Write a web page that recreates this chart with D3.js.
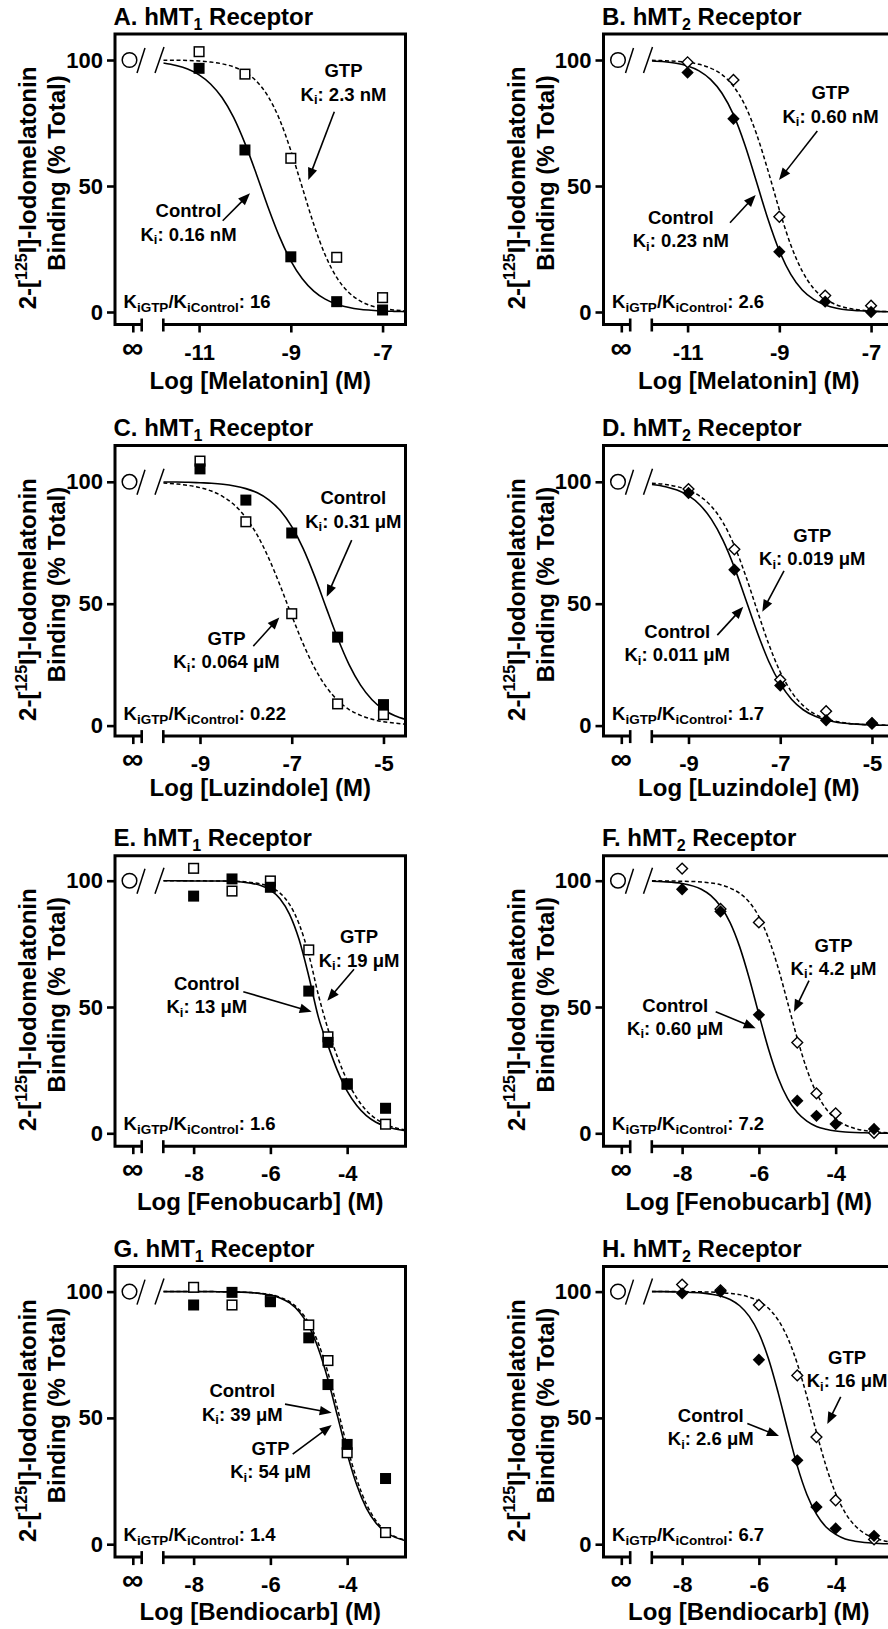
<!DOCTYPE html>
<html><head><meta charset="utf-8">
<script src="https://cdn.jsdelivr.net/npm/d3@7"></script>
<style>
html,body{margin:0;padding:0;background:#fff;}
svg text{font-family:"Liberation Sans",Arial,Helvetica,sans-serif;font-weight:bold;fill:#000;}
</style></head><body>
<svg id="chart" width="888" height="1629"></svg>
<script>
// ---------- DATA ----------
const panelLetters = ["A","B","C","D","E","F","G","H"];
const receptorSubs = ["1","2","1","2","1","2","1","2"];
const ligandNames = ["Melatonin","Melatonin","Luzindole","Luzindole","Fenobucarb","Fenobucarb","Bendiocarb","Bendiocarb"];
const kiControlLabels = ["0.16 nM","0.23 nM","0.31 μM","0.011 μM","13 μM","0.60 μM","39 μM","2.6 μM"];
const kiGtpLabels = ["2.3 nM","0.60 nM","0.064 μM","0.019 μM","19 μM","4.2 μM","54 μM","16 μM"];
const kiRatioLabels = ["16","2.6","0.22","1.7","1.6","7.2","1.4","6.7"];
const yTicks = [0, 50, 100];
const totalBinding = 100;
const xTicksMel = [-11, -9, -7];
const xTicksLuz = [-9, -7, -5];
const xTicksCarb = [-8, -6, -4];
const xDomainMel = [-11.78, -6.5];
const xDomainLuz = [-9.8, -4.52];
const xDomainCarb = [-8.79, -2.48];
const yDomainAB = [-4.96, 110.32];
const yDomainCD = [-4.31, 114.85];
const yDomainEH = [-5.11, 109.9];

// measured points (log M, % total)
const concMel = [-11, -10, -9, -8, -7];
const ctrlA = [96.7, 64.3, 21.9, 4.1, 0.8];
const gtpA  = [103.3, 94.4, 61.0, 21.7, 5.7];
const ctrlB = [95.0, 76.7, 23.9, 4.1, 0.0];
const gtpB  = [99.1, 92.1, 37.8, 6.5, 2.5];
const concLuz = [-9, -8, -7, -6, -5];
const ctrlC = [105.3, 92.5, 79.0, 36.3, 8.6];
const gtpC  = [108.5, 83.6, 45.9, 8.9, 4.5];
const ctrlD = [95.4, 63.9, 16.4, 2.2, 1.1];
const gtpD  = [97.0, 72.3, 18.8, 5.9, 0.8];
const concCarb = [-8, -7, -6, -5, -4.5, -4, -3];
const ctrlE = [93.9, 100.7, 97.4, 56.3, 36.0, 19.5, 9.9];
const gtpE  = [104.9, 95.9, 99.9, 72.6, 38.2, 19.5, 3.6];
const ctrlF = [96.6, 87.8, 46.9, 12.9, 6.9, 3.7, 1.7];
const gtpF  = [104.8, 88.8, 83.5, 35.9, 15.8, 7.9, 0.2];
const ctrlG = [94.7, 99.7, 96.0, 81.7, 63.2, 39.5, 26.0];
const gtpG  = [101.7, 94.7, 96.5, 86.8, 72.7, 36.2, 4.6];
const ctrlH = [99.3, 100.0, 73.0, 33.2, 14.7, 6.2, 3.3];
const gtpH  = [102.8, 100.5, 94.7, 66.8, 42.4, 17.4, 1.9];

// fitted curves
const fitXMel = [-11.78,-11.5,-11.25,-11,-10.75,-10.5,-10.25,-10,-9.75,-9.5,-9.25,-9,-8.75,-8.5,-8.25,-8,-7.75,-7.5,-7.25,-7,-6.75,-6.5];
const fitCtrlA = [98.8,97.8,96.4,94.1,90.5,85.1,77.3,66.9,54.7,41.8,30.0,20.3,13.2,8.3,5.1,3.1,1.9,1.1,0.7,0.4,0.25,0.15];
const fitGtpA  = [99.9,99.9,99.8,99.6,99.2,98.5,97.3,95.2,91.6,85.7,76.6,64.1,49.4,34.8,22.6,13.7,8.0,4.5,2.5,1.4,0.8,0.4];
const fitCtrlB = [99.6,99.3,98.7,97.6,95.7,92.3,86.8,78.3,66.3,51.8,37.0,24.3,14.9,8.7,5.0,2.8,1.5,0.8,0.5,0.3,0.15,0.1];
const fitGtpB  = [99.9,99.7,99.5,99.1,98.3,96.8,94.2,89.6,82.1,70.8,56.3,40.6,26.6,16.2,9.3,5.2,2.8,1.5,0.8,0.4,0.2,0.1];
const fitXLuz = [-9.8,-9.5,-9.25,-9,-8.75,-8.5,-8.25,-8,-7.75,-7.5,-7.25,-7,-6.75,-6.5,-6.25,-6,-5.75,-5.5,-5.25,-5,-4.75,-4.52];
const fitCtrlC = [99.9,99.9,99.8,99.6,99.4,99.0,98.3,97.2,95.5,92.6,88.2,81.6,72.6,61.2,48.4,35.9,25.0,16.6,10.6,6.6,4.0,2.5];
const fitGtpC  = [99.5,99.1,98.5,97.6,96.2,93.9,90.5,85.3,78.1,68.6,57.3,45.1,33.5,23.6,15.9,10.4,6.6,4.2,2.6,1.6,1.0,0.6];
const fitCtrlD = [98.9,98.0,96.6,94.3,90.5,84.6,76.1,64.9,51.6,38.2,26.3,17.2,10.7,6.5,3.9,2.3,1.3,0.8,0.5,0.3,0.15,0.1];
const fitGtpD  = [99.4,98.9,98.0,96.6,94.1,89.9,83.4,73.8,61.3,47.1,33.4,22.0,13.7,8.2,4.8,2.7,1.6,0.9,0.5,0.3,0.2,0.1];
const fitXCarb = [-8.79,-8.5,-8,-7.5,-7.25,-7,-6.75,-6.5,-6.25,-6,-5.75,-5.5,-5.25,-5,-4.75,-4.5,-4.25,-4,-3.75,-3.5,-3.25,-3,-2.75,-2.48];
const fitCtrlE = [100,100,99.9,99.9,99.9,99.8,99.5,99.0,98.1,96.3,92.9,86.7,76.6,62.2,46.0,34.8,24.7,16.7,11.0,7.0,4.4,2.8,1.7,1.0];
const fitGtpE  = [100,100,100,99.9,99.9,99.8,99.7,99.3,98.7,97.5,95.1,90.6,82.8,70.8,54.8,41.3,30.1,20.9,14.0,9.0,5.7,3.6,2.2,1.3];
const fitCtrlF = [99.8,99.6,98.9,96.6,94.1,89.9,83.4,73.8,61.3,47.1,33.4,22.0,13.7,8.2,4.8,2.7,1.6,0.9,0.5,0.3,0.2,0.1,0.05,0.03];
const fitGtpF  = [100,99.9,99.8,99.5,99.1,98.4,97.1,95.0,91.5,85.8,77.2,65.6,51.7,37.6,25.3,16.0,9.7,5.7,3.3,1.9,1.1,0.6,0.3,0.2];
const fitCtrlG = [100,100,100,100,99.9,99.9,99.8,99.6,99.2,98.6,97.5,95.5,92.0,86.3,77.4,65.2,50.6,35.9,23.4,14.3,8.4,4.8,2.7,1.4];
const fitGtpG  = [100,100,100,100,99.9,99.9,99.8,99.6,99.3,98.8,97.7,96.0,92.8,87.6,79.5,67.9,53.6,38.7,25.7,15.9,9.3,5.3,3.0,1.6];
const fitCtrlH = [100,100,99.8,99.5,99.0,98.3,96.9,94.4,90.2,83.5,73.4,60.1,45.2,31.0,19.7,11.9,6.8,3.9,2.1,1.2,0.7,0.4,0.2,0.1];
const fitGtpH  = [100,100,100,99.9,99.8,99.6,99.3,98.8,97.8,96.2,93.4,88.8,81.7,71.5,58.5,44.3,30.9,20.1,12.4,7.4,4.3,2.5,1.4,0.8];

// ---------- LAYOUT ----------
const colX0 = [115, 603.5];
const rowY0 = [34, 445.6, 855.7, 1266.6];
const xTitleBase = [355, 350, 354, 353.5];
const FW = 290.5, FH = 290.5, XSTART = 48.3, BREAK1 = 26.7, INFX = 18.3, CIRX = 14.5;
// label anchors (panel-local px): control name line, gtp name line, arrows [x1,y1,tipX,tipY]
const annotLayout = [
  {c:[73.5,183.3], g:[228.5,43.3], ca:[107.7,186.7,135,159.3], ga:[219.3,77.7,193.3,146]},
  {c:[77.3,190], g:[227,65.3], ca:[126.5,188.7,152.2,161], ga:[213.8,97,175.5,146]},
  {c:[238.3,58.8], g:[111.5,199.5], ca:[236.7,94.5,211.7,151.2], ga:[138.3,200.5,164.3,171.8]},
  {c:[73.7,192.2], g:[208.8,96.2], ca:[113.8,189.5,139.8,161.2], ga:[180.5,125.2,158.8,166.2]},
  {c:[91.8,134.3], g:[244,87.6], ca:[128.3,136,196.7,156], ga:[239,113.6,212.3,145]},
  {c:[71.7,156], g:[230,96], ca:[112.2,156,152.2,172.6], ga:[205.5,125,190.5,156]},
  {c:[127.3,130.8], g:[155.5,188.5], ca:[170,137.5,216.7,146.2], ga:[177.7,187.5,216.7,158.5]},
  {c:[107.2,155.2], g:[243.6,97.5], ca:[143.8,156.8,175.5,169.5], ga:[237.2,130.2,223.8,157.5]}
];

const panels = [
  {conc:concMel, ctrl:ctrlA, gtp:gtpA, fx:fitXMel, fc:fitCtrlA, fg:fitGtpA, xd:xDomainMel, yd:yDomainAB, xt:xTicksMel, shape:"square"},
  {conc:concMel, ctrl:ctrlB, gtp:gtpB, fx:fitXMel, fc:fitCtrlB, fg:fitGtpB, xd:xDomainMel, yd:yDomainAB, xt:xTicksMel, shape:"diamond"},
  {conc:concLuz, ctrl:ctrlC, gtp:gtpC, fx:fitXLuz, fc:fitCtrlC, fg:fitGtpC, xd:xDomainLuz, yd:yDomainCD, xt:xTicksLuz, shape:"square"},
  {conc:concLuz, ctrl:ctrlD, gtp:gtpD, fx:fitXLuz, fc:fitCtrlD, fg:fitGtpD, xd:xDomainLuz, yd:yDomainCD, xt:xTicksLuz, shape:"diamond"},
  {conc:concCarb, ctrl:ctrlE, gtp:gtpE, fx:fitXCarb, fc:fitCtrlE, fg:fitGtpE, xd:xDomainCarb, yd:yDomainEH, xt:xTicksCarb, shape:"square"},
  {conc:concCarb, ctrl:ctrlF, gtp:gtpF, fx:fitXCarb, fc:fitCtrlF, fg:fitGtpF, xd:xDomainCarb, yd:yDomainEH, xt:xTicksCarb, shape:"diamond"},
  {conc:concCarb, ctrl:ctrlG, gtp:gtpG, fx:fitXCarb, fc:fitCtrlG, fg:fitGtpG, xd:xDomainCarb, yd:yDomainEH, xt:xTicksCarb, shape:"square"},
  {conc:concCarb, ctrl:ctrlH, gtp:gtpH, fx:fitXCarb, fc:fitCtrlH, fg:fitGtpH, xd:xDomainCarb, yd:yDomainEH, xt:xTicksCarb, shape:"diamond"}
];

const svg = d3.select("#chart");

function rich(parent, x, y, segs, size, anchor) {
  const t = parent.append("text").attr("x", x).attr("y", y)
    .attr("font-size", size).attr("text-anchor", anchor || "start");
  let shift = 0;
  segs.forEach(s => {
    const kind = s[1] || "";
    const fs = s[2] || (kind ? size * 0.72 : size);
    const target = kind === "sub" ? (s[3] != null ? s[3] : size * 0.22) : kind === "sup" ? -(s[3] != null ? s[3] : size * 0.42) : 0;
    t.append("tspan").attr("dy", target - shift).attr("font-size", fs).text(s[0]);
    shift = target;
  });
  return t;
}

function arrow(g, a) {
  const dx = a[2] - a[0], dy = a[3] - a[1], L = Math.hypot(dx, dy);
  const ux = dx / L, uy = dy / L, hl = 12, hw = 4.8;
  const bx = a[2] - ux * hl, by = a[3] - uy * hl;
  g.append("line").attr("x1", a[0]).attr("y1", a[1]).attr("x2", bx + ux * 2).attr("y2", by + uy * 2)
    .attr("stroke", "#000").attr("stroke-width", 1.6);
  g.append("path").attr("d", `M${a[2]},${a[3]}L${bx - uy * hw},${by + ux * hw}L${bx + uy * hw},${by - ux * hw}Z`)
    .attr("fill", "#000");
}

function marker(g, shape, filled, cx, cy) {
  if (shape === "square") {
    const s = filled ? 11 : 9.6;
    g.append("rect").attr("x", cx - s / 2).attr("y", cy - s / 2).attr("width", s).attr("height", s)
      .attr("fill", filled ? "#000" : "#fff").attr("stroke", "#000").attr("stroke-width", filled ? 0 : 1.5);
  } else {
    const r = filled ? 6.2 : 5.4;
    g.append("path").attr("d", `M${cx},${cy - r}L${cx + r},${cy}L${cx},${cy + r}L${cx - r},${cy}Z`)
      .attr("fill", filled ? "#000" : "#fff").attr("stroke", "#000").attr("stroke-width", filled ? 0 : 1.4);
  }
}

panels.forEach((p, i) => {
  const col = i % 2, row = Math.floor(i / 2);
  const g = svg.append("g").attr("transform", `translate(${colX0[col]},${rowY0[row]})`);
  const x = d3.scaleLinear().domain(p.xd).range([XSTART, FW]);
  const y = d3.scaleLinear().domain(p.yd).range([FH, 0]);
  const lay = annotLayout[i];

  const clipId = "clip" + i;
  g.append("clipPath").attr("id", clipId).append("rect")
    .attr("x", XSTART).attr("y", 0).attr("width", FW - XSTART).attr("height", FH);

  // title
  rich(g, -1.5, row === 0 ? -9 : -10, [[panelLetters[i] + ". hMT"], [receptorSubs[i], "sub", 16, 5], [" Receptor"]], 24);

  // fitted curves
  const line = d3.line().x(d => x(d[0])).y(d => y(d[1])).curve(d3.curveMonotoneX);
  const cg = g.append("g").attr("clip-path", `url(#${clipId})`);
  cg.append("path").datum(p.fx.map((v, k) => [v, p.fg[k]])).attr("d", line)
    .attr("fill", "none").attr("stroke", "#000").attr("stroke-width", 1.5).attr("stroke-dasharray", "4,2.6");
  cg.append("path").datum(p.fx.map((v, k) => [v, p.fc[k]])).attr("d", line)
    .attr("fill", "none").attr("stroke", "#000").attr("stroke-width", 1.6);

  // break marks on curve + total binding circle
  const y100 = y(totalBinding);
  g.append("line").attr("x1", 30).attr("y1", y100 - 12).attr("x2", 22).attr("y2", y100 + 13)
    .attr("stroke", "#000").attr("stroke-width", 1.5);
  g.append("line").attr("x1", 49).attr("y1", y100 - 13).attr("x2", 40).attr("y2", y100 + 13)
    .attr("stroke", "#000").attr("stroke-width", 1.5);
  g.append("circle").attr("cx", CIRX).attr("cy", y100).attr("r", 7.3)
    .attr("fill", "#fff").attr("stroke", "#000").attr("stroke-width", 1.5);

  // markers: GTP (open) then control (filled)
  p.conc.forEach((c, k) => marker(g, p.shape, false, x(c), y(p.gtp[k])));
  p.conc.forEach((c, k) => marker(g, p.shape, true, x(c), y(p.ctrl[k])));

  // frame with axis break
  g.append("path").attr("d", `M${BREAK1},${FH}L0,${FH}L0,0L${FW},0L${FW},${FH}L${XSTART},${FH}`)
    .attr("fill", "none").attr("stroke", "#000").attr("stroke-width", 3).attr("stroke-linejoin", "miter");
  [BREAK1, XSTART].forEach(bx => g.append("line").attr("x1", bx).attr("x2", bx)
    .attr("y1", FH - 6).attr("y2", FH + 7).attr("stroke", "#000").attr("stroke-width", 2.6));
  g.append("line").attr("x1", INFX).attr("x2", INFX).attr("y1", FH).attr("y2", FH + 8)
    .attr("stroke", "#000").attr("stroke-width", 2.6);
  g.append("text").attr("x", INFX - 0.5).attr("y", FH + 33).attr("text-anchor", "middle")
    .attr("font-size", 30).text("∞");

  // y axis
  const ya = g.append("g").call(d3.axisLeft(y).tickValues(yTicks).tickSize(8).tickPadding(4).tickFormat(d => String(d)));
  ya.select(".domain").remove();
  ya.selectAll(".tick line").attr("stroke", "#000").attr("stroke-width", 2.6);
  ya.selectAll(".tick text").attr("font-size", 22).attr("font-family", null).attr("fill", "#000");

  // x axis
  const xa = g.append("g").attr("transform", `translate(0,${FH})`)
    .call(d3.axisBottom(x).tickValues(p.xt).tickSize(8).tickFormat(d => String(d)));
  xa.select(".domain").remove();
  xa.selectAll(".tick line").attr("stroke", "#000").attr("stroke-width", 2.6);
  xa.selectAll(".tick text").attr("font-size", 22).attr("font-family", null).attr("fill", "#000")
    .attr("y", 35).attr("dy", 0);

  // axis titles
  g.append("text").attr("x", FW / 2).attr("y", xTitleBase[row]).attr("text-anchor", "middle")
    .attr("font-size", 24).text(`Log [${ligandNames[i]}] (M)`);
  const t1 = g.append("g").attr("transform", "translate(-79,154) rotate(-90)");
  rich(t1, 0, 0, [["2-["], ["125", "sup", 16, 9.5], ["I]-Iodomelatonin"]], 24, "middle");
  const t2 = g.append("g").attr("transform", "translate(-50,139) rotate(-90)");
  t2.append("text").attr("x", 0).attr("y", 0).attr("text-anchor", "middle").attr("font-size", 24).text("Binding (% Total)");

  // annotations
  const ag = g.append("g");
  ag.append("text").attr("x", lay.c[0]).attr("y", lay.c[1]).attr("text-anchor", "middle").attr("font-size", 18.5).text("Control");
  rich(ag, lay.c[0], lay.c[1] + 23.3, [["K"], ["i", "sub", 13, 3.5], [": " + kiControlLabels[i]]], 18.5, "middle");
  ag.append("text").attr("x", lay.g[0]).attr("y", lay.g[1]).attr("text-anchor", "middle").attr("font-size", 18.5).text("GTP");
  rich(ag, lay.g[0], lay.g[1] + 23.3, [["K"], ["i", "sub", 13, 3.5], [": " + kiGtpLabels[i]]], 18.5, "middle");
  arrow(ag, lay.ca);
  arrow(ag, lay.ga);
  rich(ag, 8.5, 274, [["K"], ["iGTP", "sub", 13.5, 4], ["/K"], ["iControl", "sub", 13.5, 4], [": " + kiRatioLabels[i]]], 18.5);
});
</script></body></html>
